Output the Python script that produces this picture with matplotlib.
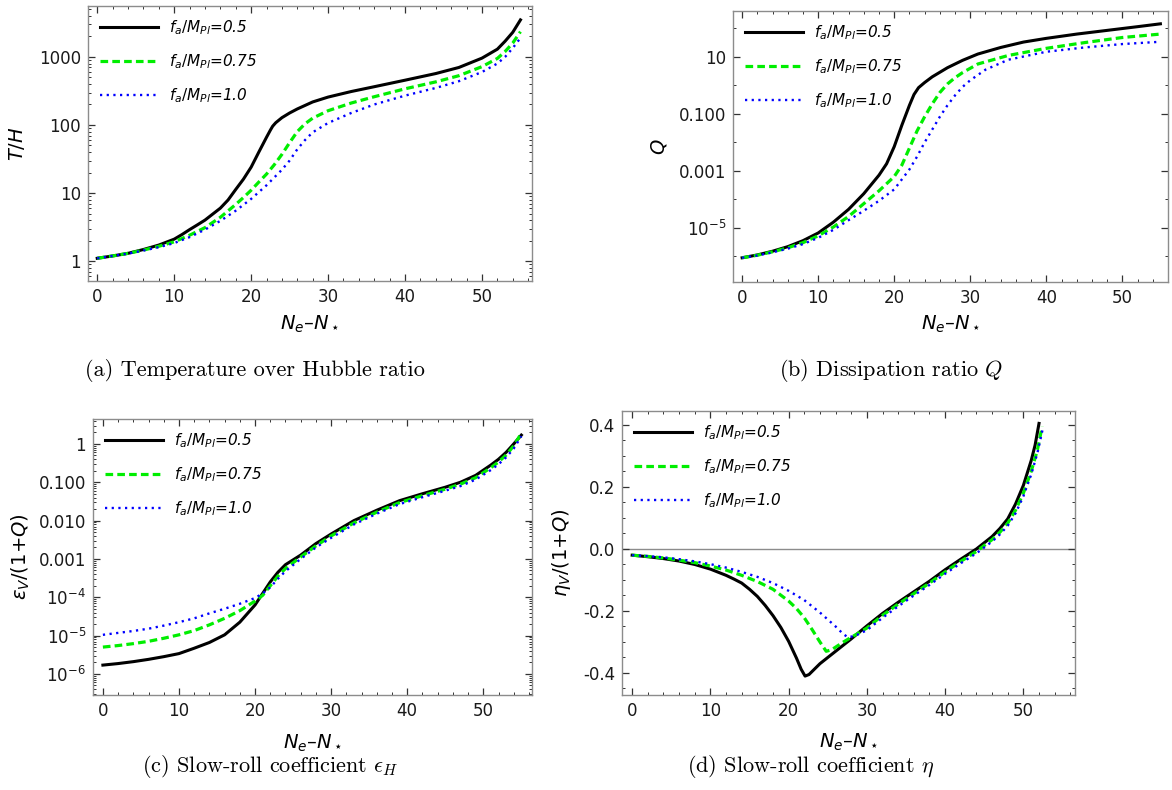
import numpy as np
import matplotlib
matplotlib.use("Agg")
import matplotlib.pyplot as plt
from matplotlib.ticker import FixedLocator, FixedFormatter, MultipleLocator, LogLocator, NullFormatter

plt.rcParams["font.family"] = "DejaVu Sans"
plt.rcParams["mathtext.fontset"] = "dejavusans"
plt.rcParams["lines.scale_dashes"] = False

labels = [r"$f_a/M_{Pl}$=0.5", r"$f_a/M_{Pl}$=0.75", r"$f_a/M_{Pl}$=1.0"]

# (a) temperature over Hubble ratio T/H
ta_x1 = [0, 2, 4, 6, 8, 10, 11, 12, 13, 14, 15, 16, 17, 18, 19, 20, 21, 22, 22.5, 22.8, 23.2,
         24, 25, 26, 28, 30, 33, 36, 40, 44, 47, 50, 52, 53, 54, 55]
ta_y1 = [1.1, 1.19, 1.3, 1.48, 1.72, 2.1, 2.45, 2.9, 3.4, 4.0, 4.9, 6.0, 7.9, 11.3, 16, 24, 40,
         66, 84, 96, 108, 128, 150, 172, 218, 257, 310, 365, 455, 570, 700, 960, 1300, 1700,
         2300, 3500]
ta_x2 = [0, 2, 4, 6, 8, 10, 12, 14, 16, 18, 19, 20, 21, 22, 23, 24, 25, 26, 27, 28, 30, 33, 36,
         40, 44, 47, 50, 52, 53, 54, 55]
ta_y2 = [1.1, 1.19, 1.3, 1.45, 1.65, 1.92, 2.4, 3.1, 4.4, 6.8, 8.6, 11, 14.5, 19, 26, 37, 55, 80,
         104, 126, 162, 210, 260, 340, 430, 530, 720, 950, 1200, 1600, 2350]
ta_x3 = [0, 2, 4, 6, 8, 10, 12, 14, 16, 18, 20, 22, 24, 25, 26, 27, 28, 30, 33, 36, 40, 44, 47,
         50, 52, 53, 54, 55]
ta_y3 = [1.1, 1.19, 1.29, 1.43, 1.6, 1.84, 2.25, 2.9, 3.9, 5.5, 8.2, 13, 22, 30, 44, 60, 78, 107,
         150, 200, 270, 350, 440, 600, 800, 1000, 1350, 1900]

# (b) dissipation ratio Q, stored as log10 Q
qb_x1 = [0, 2, 4, 6, 8, 10, 12, 14, 16, 18, 19, 20, 21, 22, 22.6, 23.2, 24, 25, 27, 29, 31, 34,
         37, 40, 44, 48, 52, 55]
qb_l1 = [-6.05, -5.95, -5.82, -5.66, -5.45, -5.18, -4.8, -4.35, -3.8, -3.15, -2.75, -2.15, -1.4,
         -0.7, -0.32, -0.08, 0.1, 0.3, 0.62, 0.88, 1.1, 1.33, 1.52, 1.65, 1.8, 1.93, 2.06, 2.16]
qb_x2 = [0, 2, 4, 6, 8, 10, 12, 14, 16, 18, 20, 21, 22, 23, 24, 25, 26, 27, 28, 29, 31, 35, 40,
         45, 50, 55]
qb_l2 = [-6.05, -5.96, -5.84, -5.7, -5.52, -5.28, -4.97, -4.6, -4.15, -3.7, -3.2, -2.8, -2.2,
         -1.6, -1.1, -0.65, -0.25, 0.05, 0.27, 0.45, 0.75, 1.05, 1.3, 1.5, 1.68, 1.8]
qb_x3 = [0, 2, 4, 6, 8, 10, 12, 14, 16, 18, 20, 22, 23, 24, 25, 26, 27, 28, 29, 30, 32, 35, 40,
         45, 50, 55]
qb_l3 = [-6.05, -5.97, -5.86, -5.73, -5.57, -5.35, -5.07, -4.73, -4.4, -4.05, -3.65, -2.95, -2.5,
         -2.0, -1.55, -1.1, -0.7, -0.35, -0.05, 0.18, 0.55, 0.9, 1.18, 1.33, 1.45, 1.53]

# (c) epsilon_V/(1+Q), stored as log10
ec_x = [0, 2, 4, 6, 8, 10, 12, 14, 16, 18, 20, 21, 22, 23, 24, 26, 28, 30, 33, 36, 39, 42, 45,
        47, 49, 51, 52, 53, 54, 55]
ec_l1 = [-5.77, -5.73, -5.68, -5.62, -5.55, -5.47, -5.33, -5.18, -4.98, -4.65, -4.2, -3.9, -3.6,
         -3.35, -3.15, -2.9, -2.6, -2.35, -2.0, -1.73, -1.48, -1.3, -1.13, -1.0, -0.82, -0.55,
         -0.4, -0.22, 0.0, 0.23]
ec_l2 = [-5.3, -5.26, -5.21, -5.15, -5.07, -4.98, -4.87, -4.72, -4.55, -4.35, -4.1, -3.95, -3.7,
         -3.45, -3.25, -2.95, -2.66, -2.4, -2.06, -1.78, -1.53, -1.35, -1.18, -1.05, -0.88, -0.62,
         -0.47, -0.29, -0.05, 0.28]
ec_l3 = [-4.98, -4.93, -4.88, -4.82, -4.74, -4.65, -4.55, -4.42, -4.3, -4.17, -4.02, -3.9, -3.74,
         -3.52, -3.32, -3.0, -2.7, -2.45, -2.1, -1.82, -1.57, -1.39, -1.22, -1.1, -0.93, -0.68,
         -0.53, -0.35, -0.12, 0.2]

# (d) eta_V/(1+Q)
ed_x1 = [0, 2, 4, 6, 8, 10, 12, 13, 14, 15, 16, 17, 18, 19, 20, 21, 21.6, 22.1, 22.6, 24, 26, 28,
         30, 32, 34, 36, 38, 40, 42, 44, 46, 47, 48, 49, 50, 51, 51.5, 52]
ed_y1 = [-0.02, -0.025, -0.031, -0.039, -0.05, -0.065, -0.085, -0.097, -0.11, -0.13, -0.153,
         -0.182, -0.215, -0.253, -0.298, -0.352, -0.388, -0.41, -0.405, -0.37, -0.33, -0.29,
         -0.248, -0.208, -0.172, -0.138, -0.104, -0.067, -0.033, 0.0, 0.04, 0.066, 0.097, 0.145,
         0.205, 0.285, 0.335, 0.405]
ed_x2 = [0, 2, 4, 6, 8, 10, 12, 14, 16, 18, 20, 21, 22, 23, 24, 24.8, 25.5, 27, 28, 30, 32, 34,
         36, 38, 40, 42, 44, 46, 47, 48, 49, 50, 51, 51.8, 52.4]
ed_y2 = [-0.02, -0.024, -0.029, -0.036, -0.044, -0.055, -0.068, -0.085, -0.105, -0.13, -0.168,
         -0.192, -0.222, -0.26, -0.3, -0.33, -0.325, -0.3, -0.285, -0.255, -0.214, -0.178,
         -0.144, -0.11, -0.074, -0.04, -0.008, 0.03, 0.054, 0.083, 0.125, 0.18, 0.25, 0.32, 0.395]
ed_x3 = [0, 2, 4, 6, 8, 10, 12, 14, 16, 18, 20, 22, 24, 26, 27, 27.6, 28.5, 30, 32, 34, 36, 38,
         40, 42, 44, 46, 47, 48, 49, 50, 51, 51.8, 52.5]
ed_y3 = [-0.02, -0.023, -0.027, -0.033, -0.04, -0.049, -0.06, -0.074, -0.09, -0.11, -0.135,
         -0.165, -0.205, -0.25, -0.275, -0.285, -0.28, -0.262, -0.222, -0.185, -0.15, -0.116,
         -0.08, -0.046, -0.014, 0.024, 0.047, 0.075, 0.115, 0.17, 0.24, 0.31, 0.39]

styles = [
    dict(color="black", lw=2.2, ls="-"),
    dict(color="#00ee00", lw=2.3, ls=(0, (5.5, 3.0))),
    dict(color="blue", lw=1.7, ls=(0, (1.6, 3.2))),
]

W, H = 1172, 790
fig = plt.figure(figsize=(W / 100, H / 100), dpi=100)


def add_panel(left, top, right, bottom):
    return fig.add_axes([left / W, 1 - bottom / H, (right - left) / W, (bottom - top) / H])


def style_axes(ax):
    for sp in ax.spines.values():
        sp.set_color("#8c8c8c")
        sp.set_linewidth(1.0)
    ax.tick_params(which="both", direction="in", top=True, right=True, color="#333333",
                   labelsize=12, labelcolor="#1a1a1a", pad=5)
    ax.tick_params(which="major", length=5, width=0.9)
    ax.tick_params(which="minor", length=2.5, width=0.7)
    ax.xaxis.set_major_locator(MultipleLocator(10))
    ax.xaxis.set_minor_locator(MultipleLocator(2))


def legend(ax):
    ax.legend(loc="upper left", frameon=False, handlelength=3.8,
              handletextpad=0.7, labelspacing=1.0, borderaxespad=0.4,
              prop={"style": "italic", "size": 11})


xlab = r"$N_e$–$N_\star$"
cap_size = 16

# panel (a)
ax = add_panel(88, 6, 532, 281)
for xs, ys, lab, st in zip([ta_x1, ta_x2, ta_x3], [ta_y1, ta_y2, ta_y3], labels, styles):
    ax.plot(xs, ys, label=lab, **st)
ax.set_yscale("log")
ax.set_xlim(-1.2, 56.5)
ax.set_ylim(0.51, 5600)
style_axes(ax)
ax.yaxis.set_major_locator(FixedLocator([1, 10, 100, 1000]))
ax.yaxis.set_major_formatter(FixedFormatter(["1", "10", "100", "1000"]))
ax.yaxis.set_minor_locator(LogLocator(base=10, subs=range(2, 10)))
ax.yaxis.set_minor_formatter(NullFormatter())
ax.set_xlabel(xlab, fontsize=14)
ax.set_ylabel(r"$T/H$", fontsize=14)
ax.xaxis.set_label_coords(0.5, -0.118)
ax.yaxis.set_label_coords(-0.137, 0.5)
legend(ax)
fig.text(255 / W, 1 - 370 / H, "(a) Temperature over Hubble ratio", family="cmr10",
         fontsize=cap_size, ha="center", va="center")

# panel (b)
ax = add_panel(733, 11, 1168, 282)
for xs, ls_, lab, st in zip([qb_x1, qb_x2, qb_x3], [qb_l1, qb_l2, qb_l3], labels, styles):
    ax.plot(xs, 10 ** np.array(ls_), label=lab, **st)
ax.set_yscale("log")
ax.set_xlim(-1.2, 56.0)
ax.set_ylim(10 ** -6.9, 10 ** 2.61)
style_axes(ax)
ax.yaxis.set_major_locator(FixedLocator([1e1, 1e-1, 1e-3, 1e-5]))
ax.yaxis.set_major_formatter(FixedFormatter(["10", "0.100", "0.001", r"$10^{-5}$"]))
ax.yaxis.set_minor_locator(FixedLocator([1e2, 1e0, 1e-2, 1e-4, 1e-6]))
ax.yaxis.set_minor_formatter(NullFormatter())
ax.set_xlabel(xlab, fontsize=14)
ax.set_ylabel(r"$Q$", fontsize=14)
ax.xaxis.set_label_coords(0.5, -0.118)
ax.yaxis.set_label_coords(-0.147, 0.5)
legend(ax)
fig.text(891 / W, 1 - 370 / H, r"(b) Dissipation ratio $Q$", family="cmr10",
         math_fontfamily="cm", fontsize=cap_size, ha="center", va="center")

# panel (c)
ax = add_panel(93, 419, 532, 695)
for ls_, lab, st in zip([ec_l1, ec_l2, ec_l3], labels, styles):
    ax.plot(ec_x, 10 ** np.array(ls_), label=lab, **st)
ax.set_yscale("log")
ax.set_xlim(-1.3, 56.4)
ax.set_ylim(10 ** -6.55, 10 ** 0.65)
style_axes(ax)
ax.yaxis.set_major_locator(FixedLocator([1, 1e-1, 1e-2, 1e-3, 1e-4, 1e-5, 1e-6]))
ax.yaxis.set_major_formatter(FixedFormatter(["1", "0.100", "0.010", "0.001", r"$10^{-4}$",
                                             r"$10^{-5}$", r"$10^{-6}$"]))
ax.yaxis.set_minor_locator(LogLocator(base=10, subs=range(2, 10)))
ax.yaxis.set_minor_formatter(NullFormatter())
ax.set_xlabel(xlab, fontsize=14)
ax.set_ylabel(r"$\epsilon_V/(1$+$Q)$", fontsize=14)
ax.xaxis.set_label_coords(0.5, -0.135)
ax.yaxis.set_label_coords(-0.139, 0.5)
legend(ax)
fig.text(270 / W, 1 - 767 / H, r"(c) Slow-roll coefficient $\epsilon_H$", family="cmr10",
         math_fontfamily="cm", fontsize=cap_size, ha="center", va="center")

# panel (d)
ax = add_panel(622, 411, 1075, 695)
ax.axhline(0, color="#8c8c8c", lw=1.0, zorder=1)
for xs, ys, lab, st in zip([ed_x1, ed_x2, ed_x3], [ed_y1, ed_y2, ed_y3], labels, styles):
    ax.plot(xs, ys, label=lab, **st)
ax.set_xlim(-1.3, 56.6)
ax.set_ylim(-0.471, 0.445)
style_axes(ax)
ax.set_yticks([-0.4, -0.2, 0.0, 0.2, 0.4])
ax.set_yticklabels(["-0.4", "-0.2", "0.0", "0.2", "0.4"])
ax.yaxis.set_minor_locator(MultipleLocator(0.05))
ax.set_xlabel(xlab, fontsize=14)
ax.set_ylabel(r"$\eta_V/(1$+$Q)$", fontsize=14)
ax.xaxis.set_label_coords(0.5, -0.13)
ax.yaxis.set_label_coords(-0.108, 0.5)
legend(ax)
fig.text(811 / W, 1 - 767 / H, r"(d) Slow-roll coefficient $\eta$", family="cmr10",
         math_fontfamily="cm", fontsize=cap_size, ha="center", va="center")

fig.savefig("out.png", dpi=100)
